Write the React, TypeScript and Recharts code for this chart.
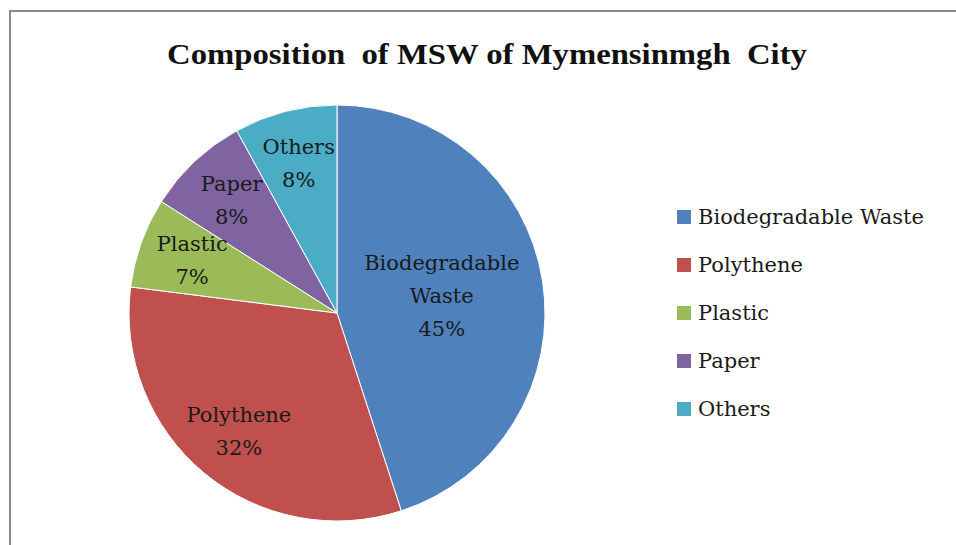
import { PieChart, Pie, Cell, Legend } from 'recharts';

const categories = ['Biodegradable Waste', 'Polythene', 'Plastic', 'Paper', 'Others'];
const shares = [45, 32, 7, 8, 8];
const colors = ['#4F81BD', '#C0504D', '#9BBB59', '#8064A2', '#4BACC6'];

const data = categories.map((name, i) => ({ name, value: shares[i] }));

const RAD = Math.PI / 180;
const serif = '"DejaVu Serif", "Liberation Serif", serif';

const renderLabel = (props: any) => {
  const { cx, cy, midAngle, outerRadius, name, value } = props;
  // Excel "best fit": big slice label sits nearer the centre, small ones near the rim
  const r = outerRadius * (value > 40 ? 0.51 : 0.74);
  const x = cx + r * Math.cos(-midAngle * RAD);
  const y = cy + r * Math.sin(-midAngle * RAD);
  const lines = [...String(name).split(' '), `${value}%`];
  const lh = 33;
  const top = y - ((lines.length - 1) * lh) / 2;
  return (
    <text x={x} textAnchor="middle" fill="#1a1a1a" fontFamily={serif} fontSize={21}>
      {lines.map((t, i) => (
        <tspan key={i} x={x} y={top + i * lh} dominantBaseline="central">
          {t}
        </tspan>
      ))}
    </text>
  );
};

const renderLegend = () => (
  <div style={{ fontFamily: serif, fontSize: 21, color: '#1a1a1a' }}>
    {categories.map((c, i) => (
      <div key={c} style={{ display: 'flex', alignItems: 'center', height: 48 }}>
        <span style={{ width: 14, height: 14, background: colors[i], marginRight: 7, display: 'inline-block' }} />
        <span>{c}</span>
      </div>
    ))}
  </div>
);

export default function App() {
  return (
    <div style={{ position: 'absolute', left: 0, top: 0, width: 956, height: 545, background: '#fff', overflow: 'hidden' }}>
      <div
        style={{
          position: 'absolute',
          left: 9,
          top: 10,
          width: 960,
          height: 560,
          borderTop: '2px solid #8a8a8a',
          borderLeft: '2px solid #8a8a8a',
        }}
      />
      <div
        style={{
          position: 'absolute',
          left: 0,
          top: 37,
          width: 974,
          textAlign: 'center',
          fontFamily: '"Liberation Serif", serif',
          fontWeight: 'bold',
          fontSize: 30,
          color: '#111',
          whiteSpace: 'pre',
          transform: 'scaleX(1.09)',
          transformOrigin: '487px 0',
        }}
      >
        {'Composition  of MSW of Mymensinmgh  City'}
      </div>
      <div style={{ position: 'absolute', left: 0, top: 0 }}>
        <PieChart width={956} height={545} margin={{ top: 0, right: 0, bottom: 0, left: 0 }}>
          <Pie
            data={data}
            dataKey="value"
            nameKey="name"
            cx={337}
            cy={313}
            outerRadius={208}
            startAngle={90}
            endAngle={-270}
            stroke="#ffffff"
            strokeWidth={1}
            label={renderLabel}
            labelLine={false}
            isAnimationActive={false}
          >
            {data.map((d, i) => (
              <Cell key={d.name} fill={colors[i]} />
            ))}
          </Pie>
          <Legend
            content={renderLegend}
            layout="vertical"
            verticalAlign="top"
            align="right"
            wrapperStyle={{ left: 677, top: 193, width: 279 }}
          />
        </PieChart>
      </div>
    </div>
  );
}
